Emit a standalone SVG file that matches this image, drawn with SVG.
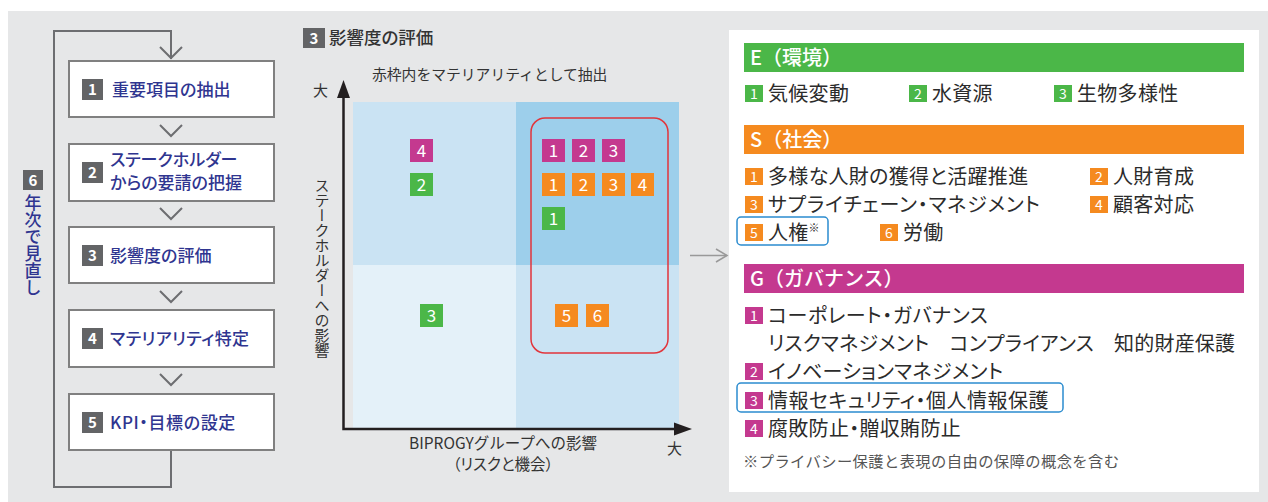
<svg xmlns="http://www.w3.org/2000/svg" width="1268" height="502" viewBox="0 0 1268 502">
<style>
text{font-family:"Noto Sans CJK JP","Noto Sans",sans-serif;font-feature-settings:"palt";}
.np{font-feature-settings:normal}
.flow{fill:#fff;stroke:#808080;stroke-width:2}
.chev{fill:none;stroke:#6d6e71;stroke-width:2}
.loop{fill:none;stroke:#6d6e71;stroke-width:2}
.ft{font-size:17px;font-weight:500;fill:#2f3590}
.gb{fill:#636466}
.bn{fill:#fff;font-weight:700;font-size:15px;text-anchor:middle}
.mg{fill:#c4398f}.gr{fill:#4bb748}.or{fill:#f58a1f}
.mn{fill:#fff;font-size:17px;text-anchor:middle}
.rn{fill:#fff;font-size:14px;text-anchor:middle}
.rt{font-size:20px;fill:#2b2b2b;letter-spacing:0.3px}
.hd{font-size:20px;fill:#fff;font-weight:500;font-feature-settings:normal}
.lab{font-size:15px;fill:#333}
.hl{fill:none;stroke:#2b8ccf;stroke-width:1.5}
.axis{stroke:#231f20;stroke-width:2.5;fill:none}
</style>
<rect x="8" y="11" width="1260" height="491" fill="#e6e7e8"/>

<g id="connectors">
  <path class="loop" d="M171,450 V487 H54 V31 H171 V59"/>
  <polyline class="chev" points="160,47 171,58 182,47"/>
  <polyline class="chev" points="160,125 171,136 182,125"/>
  <polyline class="chev" points="160,208 171,219 182,208"/>
  <polyline class="chev" points="160,291 171,302 182,291"/>
  <polyline class="chev" points="160,374 171,385 182,374"/>
  <g stroke="#999" stroke-width="1.5" fill="none">
    <line x1="690" y1="255.5" x2="727" y2="255.5"/>
    <polyline points="716,249 727,255.5 716,262"/>
  </g>
</g>

<g id="loop-label">
  <rect class="gb" x="23" y="170" width="20" height="20"/>
  <text class="bn" x="33" y="185.5">6</text>
  <text class="ft" x="33" y="194" style="writing-mode:vertical-rl;font-weight:500;font-feature-settings:normal">年次で見直し</text>
</g>

<g id="step1">
  <rect class="flow" x="69" y="61" width="205" height="56"/>
  <rect class="gb" x="82" y="79" width="21" height="21"/>
  <text class="bn" x="92.5" y="95">1</text>
  <text class="ft" x="112" y="96">重要項目の抽出</text>
</g>
<g id="step2">
  <rect class="flow" x="69" y="144" width="205" height="57"/>
  <rect class="gb" x="82" y="162" width="21" height="21"/>
  <text class="bn" x="92.5" y="178">2</text>
  <text class="ft" x="110" y="166">ステークホルダー</text>
  <text class="ft" x="110" y="189">からの要請の把握</text>
</g>
<g id="step3">
  <rect class="flow" x="69" y="227" width="205" height="56"/>
  <rect class="gb" x="82" y="245" width="21" height="21"/>
  <text class="bn" x="92.5" y="261">3</text>
  <text class="ft" x="110" y="262">影響度の評価</text>
</g>
<g id="step4">
  <rect class="flow" x="69" y="310" width="205" height="57"/>
  <rect class="gb" x="82" y="328" width="21" height="21"/>
  <text class="bn" x="92.5" y="344">4</text>
  <text class="ft" x="110" y="345" style="letter-spacing:0.4px">マテリアリティ特定</text>
</g>
<g id="step5">
  <rect class="flow" x="69" y="394" width="205" height="56"/>
  <rect class="gb" x="82" y="412" width="21" height="21"/>
  <text class="bn" x="92.5" y="428">5</text>
  <text class="ft" x="110" y="429" style="letter-spacing:0.6px">KPI・目標の設定</text>
</g>

<g id="matrix">
  <rect class="gb" x="303" y="28" width="22" height="20"/>
  <text class="bn" x="314" y="43.5">3</text>
  <text x="329" y="44" style="font-size:17.5px;font-weight:500;fill:#333">影響度の評価</text>
  <text class="lab np" x="372" y="80" style="font-size:14.8px">赤枠内をマテリアリティとして抽出</text>
  <rect x="353" y="102" width="163" height="163" fill="#cae3f3"/>
  <rect x="516" y="102" width="163" height="163" fill="#9dcfeb"/>
  <rect x="353" y="265" width="163" height="163" fill="#e4f1f9"/>
  <rect x="516" y="265" width="163" height="163" fill="#cae3f3"/>
  <rect x="531" y="118" width="137" height="235" rx="14" fill="none" stroke="#e2353b" stroke-width="1.5"/>
  <path class="axis" d="M343.5,96 V429 H676"/>
  <polygon points="343.5,80 337,98 350,98" fill="#231f20"/>
  <polygon points="692,429 674,422.5 674,435.5" fill="#231f20"/>
  <text class="lab" x="313" y="96">大</text>
  <text class="lab" x="667" y="454">大</text>
  <text class="lab" x="322" y="178" style="writing-mode:vertical-rl">ステークホルダーへの影響</text>
  <text class="lab np" x="503" y="449" text-anchor="middle" style="font-size:15.5px">BIPROGYグループへの影響</text>
  <text class="lab" x="503" y="470" text-anchor="middle" style="font-size:15.5px">（リスクと機会）</text>
  <rect class="mg" x="410" y="139" width="23" height="23"/><text class="mn" x="421.5" y="156.5">4</text>
  <rect class="gr" x="410" y="173" width="23" height="23"/><text class="mn" x="421.5" y="190.5">2</text>
  <rect class="mg" x="542" y="139" width="23" height="23"/><text class="mn" x="553.5" y="156.5">1</text>
  <rect class="mg" x="572" y="139" width="23" height="23"/><text class="mn" x="583.5" y="156.5">2</text>
  <rect class="mg" x="602" y="139" width="23" height="23"/><text class="mn" x="613.5" y="156.5">3</text>
  <rect class="or" x="542" y="173" width="23" height="23"/><text class="mn" x="553.5" y="190.5">1</text>
  <rect class="or" x="572" y="173" width="23" height="23"/><text class="mn" x="583.5" y="190.5">2</text>
  <rect class="or" x="602" y="173" width="23" height="23"/><text class="mn" x="613.5" y="190.5">3</text>
  <rect class="or" x="631" y="173" width="23" height="23"/><text class="mn" x="642.5" y="190.5">4</text>
  <rect class="gr" x="542" y="207" width="23" height="23"/><text class="mn" x="553.5" y="224.5">1</text>
  <rect class="gr" x="420" y="304" width="23" height="23"/><text class="mn" x="431.5" y="321.5">3</text>
  <rect class="or" x="555" y="304" width="23" height="23"/><text class="mn" x="566.5" y="321.5">5</text>
  <rect class="or" x="586" y="304" width="23" height="23"/><text class="mn" x="597.5" y="321.5">6</text>
</g>

<g id="materiality-list">
  <rect x="729" y="30" width="530" height="462" fill="#fff"/>
  <rect class="gr" x="744" y="43" width="500" height="29"/>
  <text class="hd" x="750" y="64.5">E（環境）</text>
  <rect class="gr" x="745" y="85" width="18" height="17"/><text class="rn" x="754" y="98.5">1</text>
  <text class="rt" x="768" y="100.5">気候変動</text>
  <rect class="gr" x="909" y="85" width="18" height="17"/><text class="rn" x="918" y="98.5">2</text>
  <text class="rt" x="932" y="100.5">水資源</text>
  <rect class="gr" x="1054" y="85" width="18" height="17"/><text class="rn" x="1063" y="98.5">3</text>
  <text class="rt" x="1077" y="100.5">生物多様性</text>

  <rect class="or" x="744" y="125" width="500" height="29"/>
  <text class="hd" x="750" y="146.5">S（社会）</text>
  <rect class="or" x="745" y="168" width="18" height="17"/><text class="rn" x="754" y="181.5">1</text>
  <text class="rt" x="768" y="183.5">多様な人財の獲得と活躍推進</text>
  <rect class="or" x="1090" y="168" width="18" height="17"/><text class="rn" x="1099" y="181.5">2</text>
  <text class="rt" x="1113" y="183.5">人財育成</text>
  <rect class="or" x="745" y="196" width="18" height="17"/><text class="rn" x="754" y="209.5">3</text>
  <text class="rt" x="768" y="211.5" style="letter-spacing:0.8px">サプライチェーン・マネジメント</text>
  <rect class="or" x="1090" y="196" width="18" height="17"/><text class="rn" x="1099" y="209.5">4</text>
  <text class="rt" x="1113" y="211.5">顧客対応</text>
  <rect class="hl" x="737" y="217" width="91" height="28" rx="4"/>
  <rect class="or" x="745" y="224" width="18" height="17"/><text class="rn" x="754" y="237.5">5</text>
  <text class="rt" x="768" y="239.5">人権<tspan style="font-size:11px" dy="-8">※</tspan></text>
  <rect class="or" x="880" y="224" width="18" height="17"/><text class="rn" x="889" y="237.5">6</text>
  <text class="rt" x="903" y="239.5">労働</text>

  <rect class="mg" x="744" y="264" width="500" height="29"/>
  <text class="hd" x="750" y="285.5">G（ガバナンス）</text>
  <rect class="mg" x="745" y="307" width="18" height="17"/><text class="rn" x="754" y="320.5">1</text>
  <text class="rt" x="768" y="322.5" style="letter-spacing:0.6px">コーポレート・ガバナンス</text>
  <text class="rt" x="768" y="350.5" style="letter-spacing:0.2px">リスクマネジメント　コンプライアンス　知的財産保護</text>
  <rect class="mg" x="745" y="363" width="18" height="17"/><text class="rn" x="754" y="376.5">2</text>
  <text class="rt" x="768" y="378.5">イノベーションマネジメント</text>
  <rect class="hl" x="737" y="383" width="326" height="29" rx="4"/>
  <rect class="mg" x="745" y="392" width="18" height="17"/><text class="rn" x="754" y="405.5">3</text>
  <text class="rt" x="768" y="407.5" style="letter-spacing:0.5px">情報セキュリティ・個人情報保護</text>
  <rect class="mg" x="745" y="420" width="18" height="17"/><text class="rn" x="754" y="433.5">4</text>
  <text class="rt" x="768" y="435.5">腐敗防止・贈収賄防止</text>
  <text class="np" x="743" y="466.5" style="font-size:15.3px;fill:#555;letter-spacing:0.4px">※プライバシー保護と表現の自由の保障の概念を含む</text>
</g>
</svg>
